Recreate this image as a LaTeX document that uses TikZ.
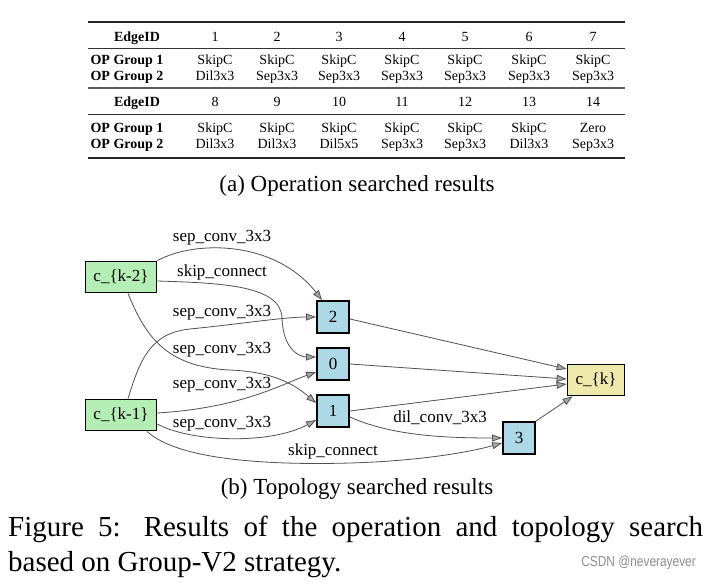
\documentclass[tikz,border=0pt]{standalone}
\usepackage{fontspec}
\setmainfont{Liberation Serif}
\newfontfamily\wmfont{Liberation Sans}
\usetikzlibrary{arrows.meta,calc}
\definecolor{ngreen}{HTML}{B4EEB4}
\definecolor{nblue}{HTML}{ADD8E6}
\definecolor{nyellow}{HTML}{EEE8AA}
\definecolor{edgec}{HTML}{505050}
\begin{document}
\begin{tikzpicture}[x=1pt,y=-1pt,
  box/.style={draw=black, line width=1.8pt, minimum height=31pt, inner sep=0pt, font=\fontsize{17}{20}\selectfont},
  gbox/.style={box, fill=ngreen, minimum width=71pt},
  nbox/.style={box, fill=nblue, minimum width=32pt, minimum height=32pt},
  kbox/.style={box, fill=nyellow, minimum width=57pt},
  conn/.style={draw=edgec, line width=0.8pt, -{Triangle[length=10pt,width=7pt,fill=black!35]}},
  elab/.style={font=\fontsize{17}{20}\selectfont, inner sep=0pt},
  tcell/.style={font=\fontsize{14}{16}\selectfont, anchor=base, inner sep=0pt},
  thead/.style={tcell, font=\fontsize{14}{16}\selectfont\bfseries},
  caps/.style={font=\fontsize{23}{26}\selectfont, anchor=base, inner sep=0pt},
  figcap/.style={anchor=base west, inner sep=0pt, font=\fontsize{29}{34}\selectfont},
  heavyrule/.style={line width=1.8pt, draw=black!85},
  lightrule/.style={line width=0.8pt, draw=black!80},
]
\fill[white] (0,0) rectangle (715,585);
\useasboundingbox (0,0) rectangle (715,585);

% ---- table ----
\draw[heavyrule] (88,22) -- (625,22);
\draw[lightrule] (88,48) -- (625,48);
\draw[line width=1.5pt, draw=black!65] (88,88) -- (625,88);
\draw[lightrule] (88,114) -- (625,114);
\draw[heavyrule] (88,158) -- (625,158);

\node[thead] (h1) at (137,42) {EdgeID};
\node[thead] (g11) at (127,65) {OP Group 1};
\node[thead] (g12) at (127,81) {OP Group 2};
\node[thead] (h2) at (137,107) {EdgeID};
\node[thead] (g21) at (127,133) {OP Group 1};
\node[thead] (g22) at (127,149) {OP Group 2};

\foreach \x/\e/\a/\b [count=\i] in {215/1/SkipC/Dil3x3, 277/2/SkipC/Sep3x3, 339/3/SkipC/Sep3x3, 402/4/SkipC/Sep3x3, 465/5/SkipC/Sep3x3, 529/6/SkipC/Sep3x3, 593/7/SkipC/Sep3x3}{
  \node[tcell] (e\i) at (\x,42) {\e};
  \node[tcell] (a\i) at (\x,65) {\a};
  \node[tcell] (b\i) at (\x,81) {\b};
}
\foreach \x/\e/\a/\b [count=\i] in {215/8/SkipC/Dil3x3, 277/9/SkipC/Dil3x3, 339/10/SkipC/Dil5x5, 402/11/SkipC/Sep3x3, 465/12/SkipC/Sep3x3, 529/13/SkipC/Dil3x3, 593/14/Zero/Sep3x3}{
  \node[tcell] (f\i) at (\x,107) {\e};
  \node[tcell] (c\i) at (\x,133) {\a};
  \node[tcell] (d\i) at (\x,149) {\b};
}
\node[caps] (capa) at (357,192) {(a) Operation searched results};

% ---- graph ----
\node[gbox] (ck2) at (121,277) {c\_\{k-2\}};
\node[gbox] (ck1) at (121,415) {c\_\{k-1\}};
\node[nbox] (n2) at (333,317) {2};
\node[nbox] (n0) at (333,364) {0};
\node[nbox] (n1) at (333,411) {1};
\node[nbox] (n3) at (519,438) {3};
\node[kbox] (ck) at (596,380) {c\_\{k\}};

\coordinate (m2) at (282,318);
\coordinate (m3) at (190,329);
\coordinate (m4) at (230,370);
\coordinate (m7) at (350,463);

\draw[conn] (ck2.north east) .. controls (195,240) and (275,240) .. ($(n2.north west)+(6,0)$);
\draw[conn] ($(ck2.east)+(0,4)$) .. controls (220,283) and (281,285) .. (m2) .. controls (283,350) and (300,357) .. ($(n0.west)+(0,-7)$);
\draw[conn] ($(ck1.north)+(7,0)$) .. controls (140,360) and (150,333) .. (m3) .. controls (240,324) and (285,317) .. (n2.west);
\draw[conn] ($(ck2.south)+(7,0)$) .. controls (145,335) and (165,367) .. (m4) .. controls (275,372) and (295,385) .. ($(n1.west)+(0,-8)$);
\draw[conn] ($(ck1.east)+(0,-2)$) .. controls (240,408) and (280,385) .. ($(n0.west)+(0,8)$);
\draw[conn] ($(ck1.east)+(0,9)$) .. controls (190,442) and (270,445) .. ($(n1.west)+(0,9)$);
\draw[conn] ($(ck1.south)+(26,0)$) .. controls (180,462) and (280,465) .. (m7) .. controls (420,461) and (470,452) .. ($(n3.west)+(0,5)$);
\draw[conn] ($(n1.east)+(0,6)$) .. controls (390,435) and (440,438) .. (n3.west);
\draw[conn] ($(n2.east)+(0,2)$) -- ($(ck.west)+(0,-11)$);
\draw[conn] (n0.east) -- ($(ck.west)+(0,-1)$);
\draw[conn] (n1.east) -- ($(ck.west)+(0,4)$);
\draw[conn] (n3.north east) -- ($(ck.south west)+(6,0)$);

\node[elab] (l1) at (222,238) {sep\_conv\_3x3};
\node[elab] (l2) at (222,272) {skip\_connect};
\node[elab] (l3) at (222,313) {sep\_conv\_3x3};
\node[elab] (l4) at (222,350) {sep\_conv\_3x3};
\node[elab] (l5) at (222,385) {sep\_conv\_3x3};
\node[elab] (l6) at (222,424) {sep\_conv\_3x3};
\node[elab] (l7) at (333,451) {skip\_connect};
\node[elab] (l8) at (440,418) {dil\_conv\_3x3};

\node[caps] (capb) at (357,494) {(b) Topology searched results};

% ---- figure caption ----
\node[figcap] (fig1) at (8,536)
  {\makebox[695pt][s]{Figure 5:\ \hspace{0.3em}Results of the operation and topology search}};
\node[figcap] (fig2) at (8,571)
  {based on Group-V2 strategy.};
\node[anchor=base east, inner sep=0pt, text=black!45, font=\wmfont\fontsize{14.5}{17}\selectfont] (wm) at (696,566)
  {\scalebox{0.82}[1]{CSDN @neverayever}};
\end{tikzpicture}
\end{document}
